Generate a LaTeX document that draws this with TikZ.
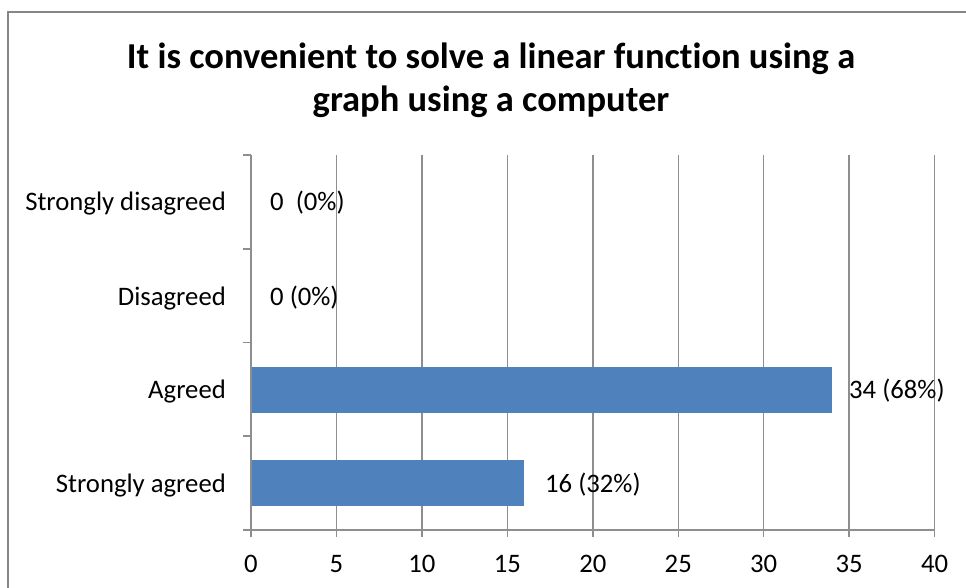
\documentclass[tikz,border=0pt]{standalone}
\usepackage{fontspec}
\setmainfont{Carlito}[Ligatures=NoCommon]
\begin{document}
\begin{tikzpicture}[x=1pt,y=-1pt,
  gridline/.style={draw=gridgray,line width=1.5pt},
  axisline/.style={draw=gridgray,line width=1.5pt},
  bar/.style={fill=barblue},
  catlabel/.style={anchor=base east,inner sep=0pt,font=\fontsize{26.7}{30}\selectfont},
  ticklabel/.style={anchor=base,inner sep=0pt,font=\fontsize{26.7}{30}\selectfont},
  datalabel/.style={anchor=base west,inner sep=0pt,font=\fontsize{26.7}{30}\selectfont},
  titlestyle/.style={align=center,inner sep=0pt,font=\fontsize{36.5}{43}\selectfont\bfseries}]
\definecolor{gridgray}{HTML}{8E8E8E}
\definecolor{barblue}{HTML}{4F81BD}
\definecolor{bordergray}{HTML}{868686}
\useasboundingbox (0,0) rectangle (966,588);
\fill[white] (0,0) rectangle (966,588);
% outer border (left and top visible)
\draw[draw=bordergray,line width=1.5pt] (8,588) -- (8,12) -- (966,12);
% title
\node[titlestyle] (title) at (491,80) {It is convenient to solve a linear function using a\\graph using a computer};
% vertical gridlines
\foreach \k in {1,...,8} {
  \coordinate (gt\k) at ({251+17.09*5*\k},155);
  \coordinate (gb\k) at ({251+17.09*5*\k},537);
  \draw[gridline] (gt\k) -- (gb\k);
}
% bars
\coordinate (b3a) at (251,366.5);
\coordinate (b3b) at ({251+17.09*34},412.5);
\coordinate (b4a) at (251,460);
\coordinate (b4b) at ({251+17.09*16},506);
\fill[bar] (b3a) rectangle (b3b);
\fill[bar] (b4a) rectangle (b4b);
% axes
\coordinate (yt) at (251,155);
\coordinate (yb) at (251,537);
\coordinate (xl) at (243,530);
\coordinate (xr) at (935,530);
\draw[axisline] (yt) -- (yb);
\draw[axisline] (xl) -- (xr);
\foreach \y in {155,249,342.5,436,530} {
  \coordinate (tl) at (243,\y);
  \coordinate (tr) at (251,\y);
  \draw[axisline] (tl) -- (tr);
}
% category labels
\node[catlabel] (c1) at (226,211) {Strongly disagreed};
\node[catlabel] (c2) at (226,305) {Disagreed};
\node[catlabel] (c3) at (226,398) {Agreed};
\node[catlabel] (c4) at (226,492) {Strongly agreed};
% tick labels
\foreach \k in {0,...,8} {
  \pgfmathtruncatemacro{\v}{5*\k}
  \node[ticklabel] (t\k) at ({251+17.09*5*\k},572) {\v};
}
% data labels
\node[datalabel] (d1) at (270,211) {0\ \ (0\%)};
\node[datalabel] (d2) at (270,305) {0 (0\%)};
\node[datalabel] (d3) at (849,398) {34 (68\%)};
\node[datalabel] (d4) at (545,492) {16 (32\%)};
\end{tikzpicture}
\end{document}
